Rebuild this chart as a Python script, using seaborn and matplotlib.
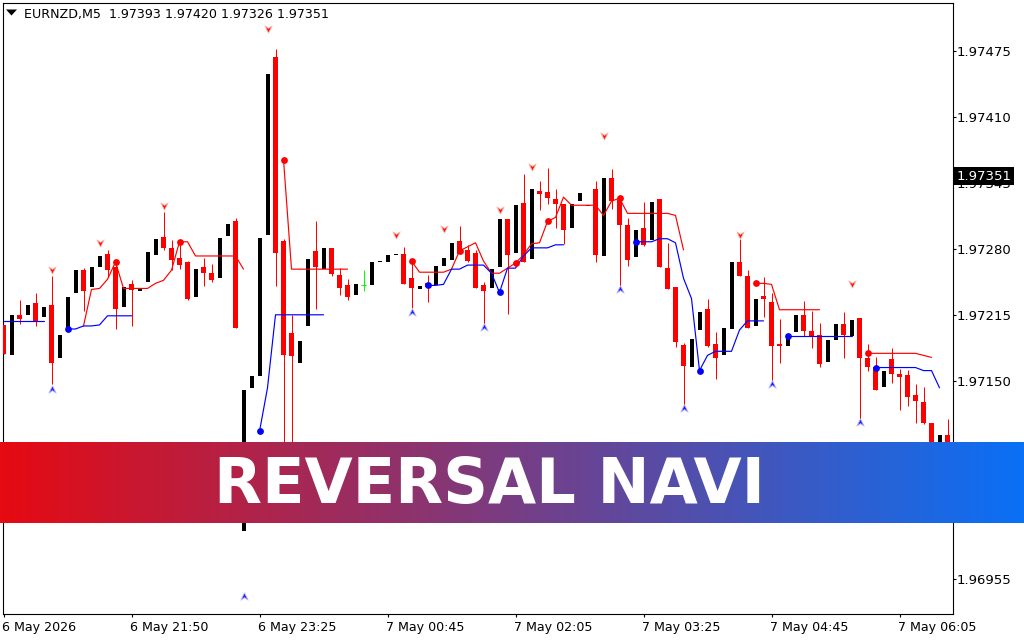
import numpy as np
import pandas as pd
import matplotlib
matplotlib.use('Agg')
import matplotlib.pyplot as plt
from matplotlib.path import Path
from matplotlib.patches import Rectangle
from matplotlib.transforms import ScaledTranslation
import seaborn as sns

# prices are written as points: 97351 means 1.97351
opens = [97205, 97175, 97215, 97215, 97227, 97213, 97225, 97172, 97202, 97236, 97259, 97242, 97262, 97275, 97262, 97223,
         97245, 97238, 97247, 97274, 97292, 97281, 97271, 97267, 97233, 97262, 97256, 97251, 97293, 97307, 97002, 97143,
         97155, 97294, 97469, 97288, 97197, 97167, 97204, 97278, 97260, 97281, 97254, 97244, 97235, 97244, 97244, 97267,
         97267, 97274, 97275, 97251, 97240, 97246, 97244, 97263, 97269, 97288, 97279, 97276, 97244, 97241, 97262, 97309,
         97276, 97325, 97270, 97337, 97336, 97329, 97324, 97301, 97327, 97322, 97339, 97273, 97350, 97328, 97304, 97272,
         97301, 97289, 97329, 97261, 97242, 97185, 97164, 97200, 97221, 97186, 97175, 97201, 97267, 97253, 97204, 97234,
         97228, 97186, 97184, 97198, 97215, 97199, 97195, 97168, 97190, 97206, 97194, 97212, 97172, 97164, 97144, 97171,
         97157, 97156, 97136, 97129, 97108, 97081, 97096]
closes = [97176, 97215, 97211, 97225, 97208, 97223, 97167, 97195, 97233, 97259, 97238, 97262, 97273, 97259, 97221, 97242,
          97239, 97241, 97277, 97290, 97281, 97269, 97264, 97231, 97260, 97256, 97249, 97291, 97305, 97202, 97141, 97155,
          97291, 97452, 97276, 97175, 97174, 97189, 97270, 97262, 97281, 97255, 97241, 97233, 97245, 97244, 97267, 97268,
          97274, 97275, 97245, 97241, 97243, 97242, 97263, 97271, 97286, 97275, 97268, 97241, 97238, 97260, 97309, 97274,
          97323, 97267, 97339, 97334, 97330, 97324, 97299, 97324, 97335, 97323, 97274, 97350, 97327, 97304, 97269, 97299,
          97284, 97326, 97262, 97240, 97188, 97165, 97191, 97218, 97184, 97172, 97202, 97267, 97253, 97202, 97231, 97231,
          97184, 97184, 97194, 97215, 97199, 97194, 97166, 97190, 97206, 97195, 97210, 97172, 97164, 97141, 97160, 97157,
          97154, 97134, 97130, 97108, 97081, 97096, 97081]
highs = [97205, 97215, 97230, 97225, 97236, 97223, 97253, 97195, 97233, 97259, 97261, 97262, 97273, 97279, 97269, 97242,
         97249, 97241, 97277, 97290, 97316, 97289, 97289, 97268, 97260, 97271, 97265, 97291, 97305, 97310, 97141, 97155,
         97291, 97452, 97477, 97290, 97215, 97189, 97270, 97307, 97281, 97281, 97261, 97250, 97245, 97259, 97267, 97268,
         97274, 97275, 97282, 97267, 97243, 97254, 97263, 97271, 97286, 97303, 97284, 97279, 97247, 97260, 97309, 97309,
         97323, 97354, 97339, 97347, 97360, 97339, 97324, 97324, 97335, 97323, 97347, 97350, 97359, 97331, 97310, 97299,
         97326, 97326, 97329, 97286, 97242, 97187, 97191, 97218, 97231, 97198, 97202, 97267, 97290, 97259, 97231, 97252,
         97236, 97211, 97194, 97215, 97229, 97219, 97207, 97190, 97206, 97218, 97210, 97212, 97186, 97173, 97160, 97182,
         97162, 97161, 97147, 97144, 97108, 97096, 97112]
lows = [97176, 97175, 97206, 97215, 97204, 97213, 97147, 97172, 97202, 97236, 97219, 97242, 97262, 97252, 97201, 97223,
        97204, 97238, 97247, 97274, 97279, 97259, 97260, 97230, 97233, 97243, 97247, 97251, 97293, 97202, 97002, 97143,
        97155, 97294, 97243, 97062, 97071, 97167, 97204, 97221, 97260, 97253, 97235, 97230, 97235, 97238, 97244, 97267,
        97267, 97274, 97245, 97222, 97240, 97228, 97244, 97263, 97269, 97275, 97267, 97241, 97205, 97241, 97262, 97216,
        97276, 97267, 97270, 97318, 97324, 97301, 97285, 97301, 97327, 97322, 97267, 97273, 97319, 97243, 97263, 97272,
        97283, 97289, 97262, 97240, 97183, 97124, 97164, 97200, 97183, 97152, 97175, 97201, 97253, 97202, 97204, 97213,
        97150, 97167, 97184, 97198, 97194, 97182, 97164, 97168, 97190, 97172, 97194, 97111, 97160, 97141, 97144, 97148,
        97121, 97125, 97108, 97107, 97079, 97081, 97081]

# indicator lines: (first bar, values)
red_segments = [
    (10, [97204, 97240, 97241, 97250, 97267, 97241, 97241, 97241, 97241, 97246, 97249, 97259, 97287, 97287,
          97273, 97273, 97273, 97273, 97273, 97273, 97260]),
    (35, [97368, 97260, 97260, 97260, 97260, 97260, 97260, 97260, 97260]),
    (51, [97268, 97257, 97257, 97257, 97257, 97260, 97278, 97282, 97286, 97268, 97256, 97256, 97261, 97266,
          97274, 97285, 97286, 97307, 97311, 97331, 97323, 97323, 97323, 97323, 97313, 97327, 97330, 97315,
          97315, 97315, 97315, 97315, 97315, 97313, 97279]),
    (94, [97246, 97246, 97245, 97220, 97220, 97220, 97220, 97220, 97220]),
    (108, [97177, 97177, 97177, 97177, 97177, 97177, 97177, 97175, 97173]),
]
blue_segments = [
    (0, [97209, 97209, 97209, 97209, 97209, 97209]),
    (8, [97201, 97201, 97204, 97204, 97205, 97214, 97214, 97214, 97214]),
    (32, [97100, 97143, 97215, 97215, 97215, 97215, 97215, 97215, 97215]),
    (53, [97244, 97244, 97245, 97260, 97260, 97264, 97264, 97264, 97256, 97237, 97261, 97261, 97273, 97281,
          97281, 97281, 97284, 97284]),
    (79, [97287, 97287, 97287, 97290, 97290, 97286, 97251, 97231, 97160, 97175, 97179, 97179, 97179, 97200,
          97209, 97209, 97209]),
    (98, [97194, 97194, 97194, 97194, 97194, 97194, 97194, 97194, 97194]),
    (109, [97163, 97163, 97163, 97163, 97163, 97163, 97160, 97160, 97143]),
]
red_dot_bars = [14, 22, 35, 51, 57, 64, 68, 77, 94, 108]
blue_dot_bars = [8, 32, 53, 62, 79, 87, 98, 109]

sell_bars = [6, 12, 20, 33, 49, 55, 62, 66, 75, 92, 106]
sell_prices = [97259, 97286, 97322, 97497, 97294, 97300, 97318, 97361, 97391, 97294, 97245]
buy_bars = [6, 30, 51, 60, 77, 85, 96, 107]
buy_prices = [97142, 96938, 97218, 97203, 97240, 97123, 97147, 97109]

y_ticks = [1.97475, 1.97410, 1.97345, 1.97280, 1.97215, 1.97150, 1.97085, 1.97020, 1.96955]
x_tick_bars = [0, 16, 32, 48, 64, 80, 96, 112]
x_tick_labels = ['6 May 2026', '6 May 21:50', '6 May 23:25', '7 May 00:45',
                 '7 May 02:05', '7 May 03:25', '7 May 04:45', '7 May 06:05']
header = 'EURNZD,M5  1.97393 1.97420 1.97326 1.97351'
last_price = 1.97351
banner_title = 'REVERSAL NAVI'


def to_price(points):
    return 1 + np.asarray(points, dtype=float) / 1e5


df = pd.DataFrame({'bar': np.arange(len(opens)), 'open': to_price(opens), 'close': to_price(closes),
                   'high': to_price(highs), 'low': to_price(lows)})
df['top'] = df[['open', 'close']].max(axis=1)
df['bottom'] = df[['open', 'close']].min(axis=1)

sns.set_style('white')
plt.rcParams['font.family'] = ['DejaVu Sans']

W, H = 1024, 640
fig = plt.figure(figsize=(W / 100, H / 100), dpi=100, facecolor='white')
ax = fig.add_axes([2.5 / W, 1 - 613.5 / H, 950 / W, 611 / H])
ax.set_xlim(-0.125, 118.625)
ax.set_ylim(1.969205, 1.975229)

# candles: wicks first, then bodies
reds = df[df['close'] < df['open']]
blacks = df[df['close'] > df['open']]
flats = df[df['close'] == df['open']]
ax.vlines(reds['bar'], reds['low'], reds['high'], color='#ff0000', lw=0.72, zorder=2)
ax.bar(reds['bar'], reds['top'] - reds['bottom'], bottom=reds['bottom'], width=0.62, color='#ff0000',
       lw=0, antialiased=False, zorder=3)
ax.bar(blacks['bar'], blacks['top'] - blacks['bottom'], bottom=blacks['bottom'], width=0.5, color='black',
       lw=0, antialiased=False, zorder=3)
ax.vlines(flats['bar'], flats['low'], flats['high'], color='#00ff00', lw=0.72, zorder=3)
ax.hlines(flats['open'], flats['bar'] - 0.3, flats['bar'] + 0.3, color='#00ff00', lw=0.72, zorder=3)

# indicator lines and dots
for segments, dot_bars, colour in [(red_segments, red_dot_bars, '#ff0000'), (blue_segments, blue_dot_bars, '#0000ff')]:
    dots = []
    for start, values in segments:
        seg = pd.DataFrame({'bar': start + np.arange(len(values)), 'price': to_price(values)})
        sns.lineplot(data=seg, x='bar', y='price', color=colour, lw=0.85, ax=ax, zorder=4, legend=False)
        dots.append(seg[seg['bar'].isin(dot_bars)])
    dots = pd.concat(dots).drop_duplicates('bar')
    sns.scatterplot(data=dots, x='bar', y='price', color=colour, s=24, linewidth=0, ax=ax, zorder=5, legend=False)

# arrows
down_arrow = Path([(-1, 1), (0, 0.3), (1, 1), (0, -1), (-1, 1)], closed=True)
up_arrow = Path([(-1, -1), (0, -0.3), (1, -1), (0, 1), (-1, -1)], closed=True)
sns.scatterplot(x=sell_bars, y=to_price(sell_prices), marker=down_arrow, s=28, color='#ff1010',
                edgecolor='#ffb8a8', linewidth=0.6, ax=ax, zorder=5, legend=False)
sns.scatterplot(x=buy_bars, y=to_price(buy_prices), marker=up_arrow, s=28, color='#2020ff',
                edgecolor='#b8b8ff', linewidth=0.6, ax=ax, zorder=5, legend=False)

# axes, MT4 style
ax.set_xlabel('')
ax.set_ylabel('')
for spine in ax.spines.values():
    spine.set_visible(True)
    spine.set_color('black')
    spine.set_linewidth(0.8)

ax.yaxis.tick_right()
ax.set_yticks(y_ticks)
ax.set_yticklabels([f'{v:.5f}' for v in y_ticks], fontsize=9.5, color='black')
ax.set_xticks(x_tick_bars)
ax.set_xticklabels(x_tick_labels, fontsize=9.1, color='black', ha='left')
ax.tick_params(axis='y', right=True, length=2, width=0.8, pad=0.8, color='black')
ax.tick_params(axis='x', bottom=True, length=2, width=0.8, pad=3.2, color='black')
shift = ScaledTranslation(-1.5 / 100, 0, fig.dpi_scale_trans)
for lab in ax.get_xticklabels():
    lab.set_transform(lab.get_transform() + shift)

# header with the small triangle
fig.text(24 / W, 1 - 14.5 / H, header, fontsize=9.05, color='black', va='center', ha='left')
tri = plt.Polygon([[6 / W, 1 - 9.5 / H], [17 / W, 1 - 9.5 / H], [11.5 / W, 1 - 15.5 / H]], closed=True,
                  transform=fig.transFigure, color='black', lw=0)
fig.add_artist(tri)

# current price label
fig.add_artist(Rectangle((954 / W, 1 - 185 / H), 60 / W, 18 / H, transform=fig.transFigure, fc='black', ec='none', zorder=5))
fig.text(984.5 / W, 1 - 176.5 / H, f'{last_price:.5f}', color='white', fontsize=9.5, va='center', ha='center', zorder=6)

# banner over the chart
bar_ax = fig.add_axes([0, 1 - 523.3 / H, 1, 81.3 / H], zorder=20)
grad = np.zeros((1, 256, 3))
grad[0, :, 0] = np.linspace(0xE6, 0x0A, 256) / 255
grad[0, :, 1] = np.linspace(0x0A, 0x70, 256) / 255
grad[0, :, 2] = np.linspace(0x12, 0xF6, 256) / 255
bar_ax.imshow(grad, aspect='auto', extent=[0, 1, 0, 1])
bar_ax.axis('off')
fig.text(489 / W, 1 - 503.3 / H, banner_title, fontsize=44.8, color='white', family='DejaVu Sans', weight='bold',
         ha='center', va='baseline', zorder=30)

fig.savefig('out.png', dpi=100)
